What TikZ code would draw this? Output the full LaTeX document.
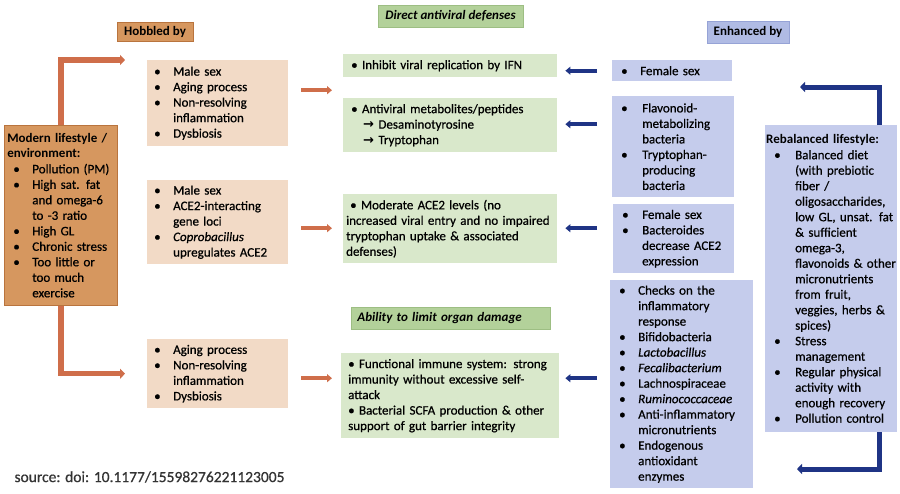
\documentclass[tikz,border=0pt]{standalone}
\usepackage{fontspec}
\setmainfont{Carlito}[UprightFeatures={FakeBold=0.6}, ItalicFeatures={FakeBold=0.6}]
\newfontfamily\arrowfont{DejaVu Sans}
\usepackage{tikz}
\usetikzlibrary{arrows.meta}

\definecolor{hobdark}{HTML}{D6975F}
\definecolor{hobline}{HTML}{B9743E}
\definecolor{hoblight}{HTML}{F2DAC6}
\definecolor{hobarrow}{HTML}{CF6E4A}
\definecolor{grndark}{HTML}{B3D19A}
\definecolor{grnline}{HTML}{9DBE83}
\definecolor{grnlight}{HTML}{D9E8CB}
\definecolor{bludark}{HTML}{B0BBE4}
\definecolor{bluline}{HTML}{96A3D6}
\definecolor{blulight}{HTML}{C5CCEC}
\definecolor{bluarrow}{HTML}{1F3485}

% bullet column of the lists
\newdimen\bulin
\newdimen\bulw
\newcommand{\bl}{\hspace*{\bulin}\makebox[\bulw][l]{\textbullet}}
\newcommand{\ct}{\hspace*{\bulin}\hspace*{\bulw}}

\begin{document}
\begin{tikzpicture}[x=1pt, y=-1pt,
    txt/.style={font=\fontsize{13}{15.5}\selectfont, text=black},
    box/.style={txt, anchor=north west, align=left, inner ysep=0pt},
    tag/.style={txt, font=\fontsize{13}{15.5}\selectfont\bfseries, line width=0.8pt, inner sep=0pt},
    hobbox/.style={box, fill=hoblight, inner xsep=7pt, execute at begin node={\bulin=0pt \bulw=19pt\relax}},
    grnbox/.style={box, fill=grnlight, inner xsep=8pt},
    blubox/.style={box, fill=blulight, inner xsep=9pt, execute at begin node={\bulin=0pt \bulw=19pt\relax}},
    hobarr/.style={draw=hobarrow, line width=4pt, -{Triangle[length=5pt,width=8pt]}, shorten <=13pt, shorten >=11pt},
    bluarr/.style={draw=bluarrow, line width=4pt, -{Triangle[length=5pt,width=8pt]}, shorten <=15pt, shorten >=8pt},
    hobbig/.style={draw=hobarrow, line width=5.5pt, -{Triangle[length=5pt,width=10pt]}},
    blubig/.style={draw=bluarrow, line width=5pt, -{Triangle[length=5pt,width=10pt]}}]

    \path[use as bounding box, fill=white] (0,0) rectangle (900,493);

    % Column tags
    \node[tag, fill=hobdark, draw=hobline, minimum width=76pt, minimum height=19pt] (hob) at (155,31.5) {Hobbled by};
    \node[tag, fill=grndark, draw=grnline, minimum width=145pt, minimum height=22pt] (direct) at (450.5,16) {\itshape Direct antiviral defenses};
    \node[tag, fill=bludark, draw=bluline, minimum width=82pt, minimum height=22pt] (enh) at (748,32) {Enhanced by};

    % Modern lifestyle
    \node[box, fill=hobdark, draw=hobline, line width=0.6pt, inner xsep=3pt, text width=107pt, minimum height=180pt,
          execute at begin node={\bulin=6pt \bulw=19pt\relax}] (mod) at (4,125)
        {\textbf{Modern lifestyle /}\\\textbf{environment:}\\\bl Pollution (PM)\\\bl High sat. fat\\\ct and omega-6\\\ct to -3 ratio\\\bl High GL\\\bl Chronic stress\\\bl Too little or\\\ct too much\\\ct exercise};

    % Hobbled by
    \node[hobbox, text width=127pt, minimum height=86pt] (h1) at (147,60)
        {\bl Male sex\\\bl Aging process\\\bl Non-resolving\\\ct inflammation\\\bl Dysbiosis};
    \node[hobbox, text width=127pt, minimum height=84pt] (h2) at (147,180)
        {\bl Male sex\\\bl ACE2-interacting\\\ct gene loci\\\bl \textit{Coprobacillus}\\\ct upregulates ACE2};
    \node[hobbox, text width=127pt, minimum height=69pt] (h3) at (147,339)
        {\bl Aging process\\\bl Non-resolving\\\ct inflammation\\\bl Dysbiosis};

    % Defenses
    \node[grnbox, text width=198pt, minimum height=23pt] (g1) at (343,54)
        {\textbullet\ Inhibit viral replication by IFN};
    \node[grnbox, text width=198pt, minimum height=54pt] (g2) at (343,98)
        {\textbullet\ Antiviral metabolites/peptides\\\hspace*{12pt}{\arrowfont\bfseries →} Desaminotyrosine\\\hspace*{12pt}{\arrowfont\bfseries →} Tryptophan};
    \node[grnbox, inner xsep=3pt, text width=208pt, minimum height=69pt] (g3) at (343,194)
        {\hspace*{4pt}\textbullet\ Moderate ACE2 levels (no\\increased viral entry and no impaired\\tryptophan uptake \& associated\\defenses)};
    \node[tag, fill=grndark, draw=grnline, anchor=north west, inner xsep=6pt, text width=187pt, minimum height=22pt] (abl) at (351,307)
        {\itshape Ability to limit organ damage};
    \node[grnbox, inner xsep=7pt, text width=204pt, minimum height=85pt] (g4) at (341,353)
        {\textbullet\ Functional immune system: strong\\immunity without excessive self-\\attack\\\textbullet\ Bacterial SCFA production \& other\\support of gut barrier integrity};

    % Enhanced by
    \node[blubox, text width=102pt, minimum height=21pt] (b1) at (612,60) {\bl Female sex};
    \node[blubox, text width=104pt, minimum height=101pt, execute at begin node={\bulw=21pt\relax}] (b2) at (612,96)
        {\bl Flavonoid-\\\ct metabolizing\\\ct bacteria\\\bl Tryptophan-\\\ct producing\\\ct bacteria};
    \node[blubox, text width=103pt, minimum height=69pt, execute at begin node={\bulw=20pt\relax}] (b3) at (613,204)
        {\bl Female sex\\\bl Bacteroides\\\ct decrease ACE2\\\ct expression};
    \node[blubox, text width=125pt, minimum height=208pt] (b4) at (610,280)
        {\bl Checks on the\\\ct inflammatory\\\ct response\\\bl Bifidobacteria\\\bl \textit{Lactobacillus}\\\bl \textit{Fecalibacterium}\\\bl Lachnospiraceae\\\bl \textit{Ruminococcaceae}\\\bl Anti-inflammatory\\\ct micronutrients\\\bl Endogenous\\\ct antioxidant\\\ct enzymes};

    % Rebalanced lifestyle
    \node[blubox, inner xsep=0pt, text width=132pt, minimum height=307pt,
          execute at begin node={\bulin=9pt \bulw=21pt\relax}] (reb) at (765,125)
        {\hspace*{1pt}\textbf{Rebalanced lifestyle:}\\\bl Balanced diet\\\ct (with prebiotic\\\ct fiber /\\\ct oligosaccharides,\\\ct low GL, unsat. fat\\\ct \& sufficient\\\ct omega-3,\\\ct flavonoids \& other\\\ct micronutrients\\\ct from fruit,\\\ct veggies, herbs \&\\\ct spices)\\\bl Stress\\\ct management\\\bl Regular physical\\\ct activity with\\\ct enough recovery\\\bl Pollution control};

    \node[anchor=west, font=\fontsize{15.5}{18}\selectfont, text=black!80] (src) at (11,477) {source: doi: 10.1177/15598276221123005};

    % Lifestyle connectors
    \draw[hobbig, shorten >=22pt] (mod.north) |- (h1.north west);
    \draw[hobbig, shorten >=22pt] (mod.south) |- (h3.west);
    \coordinate (rtop) at (800,87);
    \coordinate (rbot) at (797,469);
    \draw[blubig] ([xshift=-18pt]reb.north east) |- (rtop);
    \draw[blubig] ([xshift=-18pt]reb.south east) |- (rbot);

    % Short arrows
    \draw[hobarr] ([yshift=13pt]h1.east) -- ([yshift=13pt]h1.east -| g2.west);
    \draw[hobarr] ([yshift=-6pt]h2.east) -- ([yshift=-6pt]h2.east -| g3.west);
    \draw[hobarr, shorten >=9pt] ([yshift=-4.5pt]h3.east) -- ([yshift=-4.5pt]h3.east -| g4.west);
    \draw[bluarr] (b1.west) -- (b1.west -| g1.east);
    \draw[bluarr] ([yshift=22.5pt]b2.west) -- ([yshift=22.5pt]b2.west -| g2.east);
    \draw[bluarr, shorten <=16pt] ([yshift=10.5pt]b3.west) -- ([yshift=10.5pt]b3.west -| g3.east);
    \draw[bluarr, shorten <=13pt, shorten >=6pt] ([yshift=6pt]b4.west) -- ([yshift=6pt]b4.west -| g4.east);

\end{tikzpicture}
\end{document}
